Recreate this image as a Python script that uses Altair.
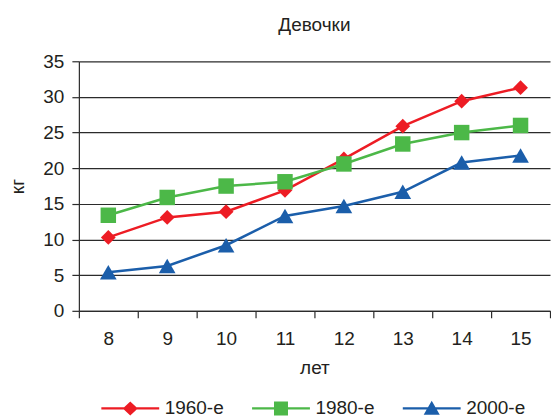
import altair as alt
import pandas as pd

ages = ["8", "9", "10", "11", "12", "13", "14", "15"]
series_names = ["1960-е", "1980-е", "2000-е"]
w1960 = [10.3, 13.1, 13.9, 16.9, 21.3, 25.9, 29.4, 31.3]
w1980 = [13.4, 15.9, 17.5, 18.1, 20.6, 23.4, 25.0, 26.0]
w2000 = [5.4, 6.3, 9.2, 13.3, 14.7, 16.7, 20.8, 21.8]
y_ticks = [0, 5, 10, 15, 20, 25, 30, 35]

colors = ["#ED1C24", "#4CB848", "#1B5EAA"]
shapes = ["diamond", "square", "triangle-up"]
sizes = [220, 240, 280]

rows = []
for name, vals in zip(series_names, [w1960, w1980, w2000]):
    for a, v in zip(ages, vals):
        rows.append({"age": a, "kg": v, "series": name})
df = pd.DataFrame(rows)

FONT = "Liberation Sans"
TXT = "#231F20"
GRID = "#2b2b2b"

# legend glyphs: a line segment with the marker on it (unit = 7px at symbolSize 196)
BAR = "M-4.14,-0.17L4.14,-0.17L4.14,0.17L-4.14,0.17Z"
P_DIAMOND = BAR + "M0,-1L1.07,0L0,1L-1.07,0Z"
P_SQUARE = BAR + "M-1,-1L1,-1L1,1L-1,1Z"
P_TRI = BAR + "M0,-1.1L1.15,0.9L-1.15,0.9Z"

x_enc = alt.X(
    "age:O",
    sort=ages,
    scale=alt.Scale(type="band", paddingInner=0, paddingOuter=0),
    axis=alt.Axis(
        title="лет",
        tickBand="extent",
        labelAngle=0,
        grid=False,
        tickSize=7,
        labelPadding=12,
        titlePadding=10,
    ),
)
y_enc = alt.Y(
    "kg:Q",
    scale=alt.Scale(domain=[0, 35], nice=False),
    axis=alt.Axis(
        title="кг",
        values=y_ticks,
        grid=True,
        tickSize=7,
        labelPadding=8,
        titlePadding=15,
    ),
)

legend = alt.Legend(
    title=None,
    orient="none",
    legendX=42,
    legendY=338,
    direction="horizontal",
    symbolSize=196,
    symbolStrokeWidth=0,
    symbolOpacity=1,
    labelFont=FONT,
    labelFontSize=19,
    labelColor=TXT,
    labelOffset=25,
    labelLimit=300,
    columnPadding=27,
    padding=0,
)

# legend carrier: no marks drawn, legend entries come from the explicit scale domains
legend_layer = (
    alt.Chart(df)
    .transform_filter(alt.datum.series == "none")
    .mark_point(filled=True, opacity=1, strokeWidth=0)
    .encode(
        x=x_enc,
        y=y_enc,
        color=alt.Color("series:N", scale=alt.Scale(domain=series_names, range=colors), legend=legend),
        shape=alt.Shape(
            "series:N",
            scale=alt.Scale(domain=series_names, range=[P_DIAMOND, P_SQUARE, P_TRI]),
            legend=legend,
        ),
    )
)

layers = [legend_layer]
for name, col in zip(series_names, colors):
    layers.append(
        alt.Chart(df)
        .transform_filter(alt.datum.series == name)
        .mark_line(strokeWidth=2.5, color=col)
        .encode(x=x_enc, y=y_enc)
    )
for name, col, shp, sz in zip(series_names, colors, shapes, sizes):
    layers.append(
        alt.Chart(df)
        .transform_filter(alt.datum.series == name)
        .mark_point(filled=True, opacity=1, strokeWidth=0, shape=shp, size=sz, color=col)
        .encode(x=x_enc, y=y_enc)
    )

chart = (
    alt.layer(*layers)
    .properties(
        width=472,
        height=250,
        padding={"left": 0, "top": 8, "right": 0, "bottom": 0},
        title=alt.TitleParams(
            "Девочки", font=FONT, fontSize=19, fontWeight="normal", color=TXT, offset=17, anchor="middle"
        ),
    )
    .configure_view(strokeWidth=0)
    .configure_axis(
        labelFont=FONT,
        labelFontSize=19,
        labelColor=TXT,
        titleFont=FONT,
        titleFontSize=19,
        titleFontWeight="normal",
        titleColor=TXT,
        domainColor=GRID,
        domainWidth=1.2,
        tickColor=GRID,
        tickWidth=1.2,
        gridColor=GRID,
        gridWidth=1.2,
        gridOpacity=1,
    )
)

chart.save("out.html", embed_options={"renderer": "svg", "actions": False})
